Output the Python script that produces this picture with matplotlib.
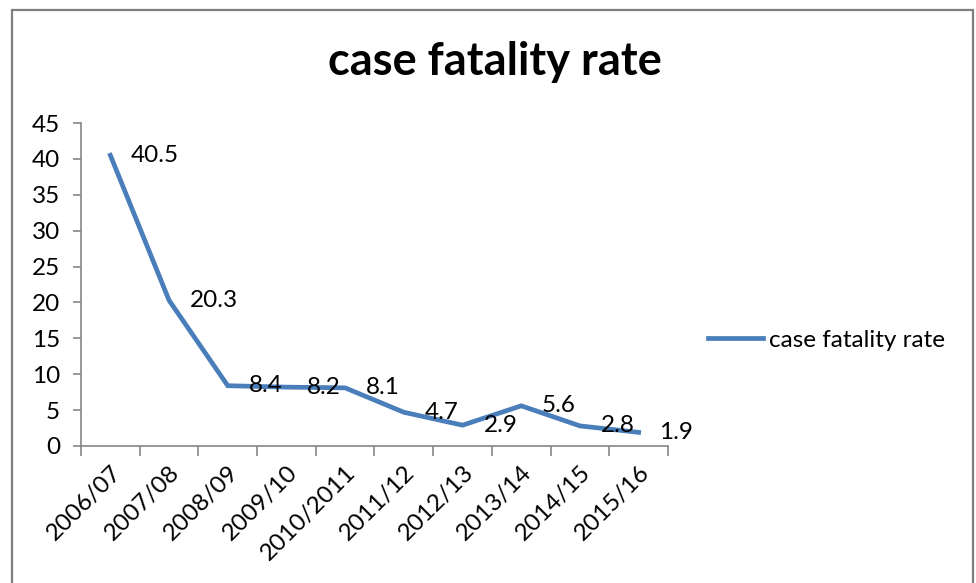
import numpy as np
import matplotlib
matplotlib.use("Agg")
import matplotlib.pyplot as plt
from matplotlib.patches import Rectangle

plt.rcParams['font.family'] = ['Lato', 'DejaVu Sans']

# season labels and case fatality rate values
seasons = ['2006/07', '2007/08', '2008/09', '2009/10', '2010/2011',
           '2011/12', '2012/13', '2013/14', '2014/15', '2015/16']
cfr = [40.5, 20.3, 8.4, 8.2, 8.1, 4.7, 2.9, 5.6, 2.8, 1.9]
series_name = 'case fatality rate'

W, H = 976, 583
fs = 17.5
fig = plt.figure(figsize=(W / 100, H / 100), dpi=100)

# outer chart frame
frame = Rectangle((12 / W, -0.05), (973 - 12) / W, 1.05 - 10 / H,
                  transform=fig.transFigure, fill=False,
                  edgecolor='#7f7f7f', lw=1.6)
fig.patches.append(frame)

ax = fig.add_axes([81 / W, 1 - 446 / H, (668 - 81) / W, (446 - 123) / H])

gray = '#868686'
line_col = '#4a7ebb'
x = np.arange(len(seasons)) + 0.5

ax.plot(x, cfr, color=line_col, lw=3.4, solid_joinstyle='miter',
        label=series_name)

for xi, v in zip(x, cfr):
    ax.annotate(f'{v}', (xi, v), xytext=(15, 0), textcoords='offset points',
                ha='left', va='center', fontsize=fs, color='black')

ax.set_xlim(0, len(seasons))
ax.set_ylim(0, 45)
ax.set_yticks(np.arange(0, 46, 5))
ax.set_xticks(np.arange(len(seasons) + 1))
ax.set_xticklabels([])
ax.set_xticks(x, minor=True)
ax.set_xticklabels(seasons, minor=True, rotation=45, ha='right',
                   rotation_mode='anchor', fontsize=fs)
ax.tick_params(axis='x', which='minor', length=0, pad=11)
ax.tick_params(axis='x', which='major', length=7, width=1.2, color=gray,
               direction='out')
ax.tick_params(axis='y', length=6, width=1.2, color=gray, labelsize=fs,
               pad=9)

for side in ['top', 'right']:
    ax.spines[side].set_visible(False)
for side in ['left', 'bottom']:
    ax.spines[side].set_color(gray)
    ax.spines[side].set_linewidth(1.2)

fig.text(495 / W, 1 - 62 / H, series_name, ha='center', va='center',
         fontsize=32.5, fontweight='bold')

ax.legend(loc='center left', bbox_to_anchor=(708 / W, 1 - 340 / H),
          bbox_transform=fig.transFigure, frameon=False, fontsize=fs,
          handlelength=2.25, handletextpad=0.25, borderpad=0, borderaxespad=0)

fig.savefig('out.png', dpi=100)
